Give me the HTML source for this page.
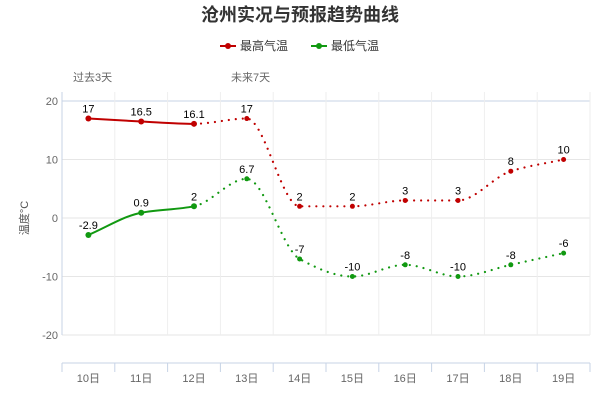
<!DOCTYPE html>
<html><head><meta charset="utf-8"><style>
body{margin:0;background:#fff;font-family:"Liberation Sans","Noto Sans CJK SC",sans-serif}
svg text{font-family:"Liberation Sans","Noto Sans CJK SC",sans-serif}
</style></head><body>
<svg id="c" width="600" height="400">
<text x="300" y="21" text-anchor="middle" font-size="18" font-weight="bold" fill="#333">沧州实况与预报趋势曲线</text>
<g><line x1="220" y1="46" x2="236" y2="46" stroke="#c00000" stroke-width="2"/><circle cx="228" cy="46" r="3" fill="#c00000"/><text x="240" y="50" font-size="12" fill="#333">最高气温</text></g>
<g><line x1="311" y1="46" x2="327" y2="46" stroke="#119911" stroke-width="2"/><circle cx="319" cy="46" r="3" fill="#119911"/><text x="331" y="50" font-size="12" fill="#333">最低气温</text></g>
<text x="73" y="81" font-size="11" fill="#666">过去3天</text>
<text x="231" y="81" font-size="11" fill="#666">未来7天</text>
<text x="28" y="218" font-size="11" fill="#555" text-anchor="middle" transform="rotate(-90 28 218)">温度°C</text>
<g id="grid"></g><g id="series"></g>
</svg>
<script>
const categories=["10日","11日","12日","13日","14日","15日","16日","17日","18日","19日"];
const highs=[17,16.5,16.1,17,2,2,3,3,8,10];
const lows=[-2.9,0.9,2,6.7,-7,-10,-8,-10,-8,-6];
const yTicks=[20,10,0,-10,-20];
const pastCount=3;
const NS="http://www.w3.org/2000/svg";
const L=62,R=590,step=(R-L)/categories.length;
const x=i=>L+step*(i+0.5);
const y=v=>218-v*5.85;
const g=document.getElementById('grid'),s=document.getElementById('series');
function mk(p,t,a){const e=document.createElementNS(NS,t);for(const k in a)e.setAttribute(k,a[k]);p.appendChild(e);return e;}
yTicks.forEach(v=>{
 const ln=mk(g,'line',{x1:L,x2:R,y1:y(v),y2:y(v),stroke:v==20?'#c7d3e6':'#e6e6e6'});
 
 
 const t=mk(g,'text',{x:58,y:y(v)+4,'text-anchor':'end','font-size':11,fill:'#666'});t.textContent=v;
 
 
});
for(let i=0;i<=categories.length;i++){
 const xx=L+step*i;
 mk(g,'line',{x1:xx,x2:xx,y1:92,y2:y(-20),stroke:i==0?'#c7d3e6':'#eeeeee'});
 mk(g,'line',{x1:xx,x2:xx,y1:363,y2:372,stroke:'#c7d3e6'});
}
mk(g,'line',{x1:L,x2:R,y1:363,y2:363,stroke:'#c7d3e6'});
categories.forEach((c,i)=>{const t=mk(g,'text',{x:x(i),y:382,'text-anchor':'middle','font-size':11,fill:'#666'});t.textContent=c;
 
 });
function tangents(pts){
 const n=pts.length,d=[],m=[];
 for(let i=0;i<n-1;i++)d.push((pts[i+1][1]-pts[i][1])/(pts[i+1][0]-pts[i][0]));
 for(let i=0;i<n;i++){
  if(i==0)m.push(d[0]);else if(i==n-1)m.push(d[n-2]);
  else{const a=d[i-1],b=d[i];m.push(a*b<=0?0:2/(1/a+1/b));}
 }
 return m;
}
function seg(pts,m,a,b){
 let p=`M${pts[a][0]},${pts[a][1]}`;
 for(let i=a;i<b;i++){
  const h=(pts[i+1][0]-pts[i][0])/3;
  p+=` C${pts[i][0]+h},${pts[i][1]+m[i]*h} ${pts[i+1][0]-h},${pts[i+1][1]-m[i+1]*h} ${pts[i+1][0]},${pts[i+1][1]}`;
 }
 return p;
}
function draw(data,color,name){
 const pts=data.map((v,i)=>[x(i),y(v)]);
 const m=tangents(pts);
 const p1=mk(s,'path',{d:seg(pts,m,0,pastCount-1),fill:'none',stroke:color,'stroke-width':2});
 
 
 const p2=mk(s,'path',{d:seg(pts,m,pastCount-1,data.length-1),fill:'none',stroke:color,'stroke-width':2.2,'stroke-dasharray':'0.01 7','stroke-linecap':'round'});
 
 
 data.forEach((v,i)=>{
  const c=mk(s,'circle',{cx:pts[i][0],cy:pts[i][1],r:i<pastCount?3:2.5,fill:color});
  
  
  const t=mk(s,'text',{x:pts[i][0],y:pts[i][1]-6,'text-anchor':'middle','font-size':11,fill:'#000'});t.textContent=v;
  
  
 });
}
draw(highs,'#c00000','high-temp');
draw(lows,'#119911','low-temp');
</script>
</body></html>
